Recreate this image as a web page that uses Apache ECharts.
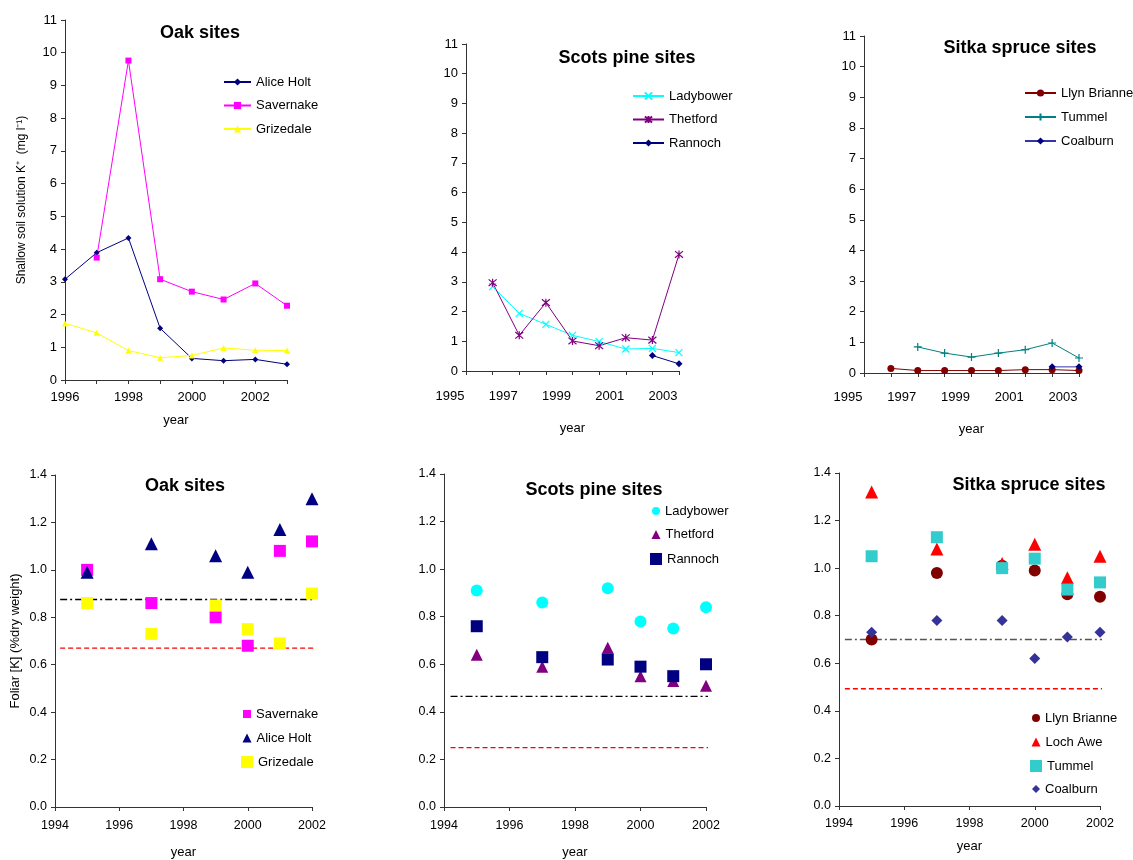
<!DOCTYPE html>
<html><head><meta charset="utf-8">
<script src="https://cdn.jsdelivr.net/npm/echarts@6/dist/echarts.min.js"></script>
<style>html,body{margin:0;padding:0;background:#fff}#c{width:1133px;height:860px}</style>
</head><body><div id="c"></div>
<script>
// ---------- data: shallow soil solution K+ (mg/l) ----------
const soilYears = [1996, 1997, 1998, 1999, 2000, 2001, 2002, 2003];
const aliceHoltSoil  = [3.08, 3.89, 4.34, 1.58, 0.66, 0.59, 0.63, 0.48];
const savernakeSoil  = [null, 3.74, 9.76, 3.08, 2.70, 2.46, 2.95, 2.27];
const grizedaleSoil  = [1.73, 1.44, 0.90, 0.68, 0.75, 0.98, 0.91, 0.90];
const ladybowerSoil  = [2.84, 1.94, 1.57, 1.20, 0.99, 0.74, 0.76, 0.62];
const thetfordSoil   = [2.97, 1.20, 2.30, 1.01, 0.85, 1.12, 1.04, 3.92];
const rannochSoil    = [null, null, null, null, null, null, 0.52, 0.24];
const llynBrianneSoil= [0.15, 0.08, 0.08, 0.08, 0.08, 0.11, 0.11, 0.08];
const tummelSoil     = [null, 0.85, 0.65, 0.52, 0.65, 0.76, 0.98, 0.49];
const coalburnSoil   = [null, null, null, null, null, null, 0.20, 0.20];

// ---------- data: foliar K (% dry weight) ----------
const foliarYears = [1995, 1997, 1999, 2000, 2001, 2002];
const savernakeFoliar   = [1.00, 0.86, 0.80, 0.68, 1.08, 1.12];
const aliceHoltFoliar   = [0.99, 1.11, 1.06, 0.99, 1.17, 1.30];
const grizedaleFoliar   = [0.86, 0.73, 0.85, 0.75, 0.69, 0.90];
const ladybowerFoliar   = [0.91, 0.86, 0.92, 0.78, 0.75, 0.84];
const thetfordFoliar    = [0.64, 0.59, 0.67, 0.55, 0.53, 0.51];
const rannochFoliar     = [0.76, 0.63, 0.62, 0.59, 0.55, 0.60];
const llynBrianneFoliar = [0.70, 0.98, 1.01, 0.99, 0.89, 0.88];
const lochAweFoliar     = [1.32, 1.08, 1.02, 1.10, 0.96, 1.05];
const tummelFoliar      = [1.05, 1.13, 1.00, 1.04, 0.91, 0.94];
const coalburnFoliar    = [0.73, 0.78, 0.78, 0.62, 0.71, 0.73];

// threshold lines (upper dash-dot, lower dashed) and their year extents
const oakThresholds    = [0.875, 0.67];
const pineThresholds   = [0.465, 0.25];
const spruceThresholds = [0.70, 0.493];
const oakRefYears    = [1994.16, 2002.33];
const pineRefYears   = [1994.2, 2002.2];
const spruceRefYears = [1994.18, 2002.25];

// tick labels
const soilYLabels = [0,1,2,3,4,5,6,7,8,9,10,11];
const foliarYLabels = ['0.0','0.2','0.4','0.6','0.8','1.0','1.2','1.4'];

// ---------- helpers ----------
const FF = '"Liberation Sans", Arial, sans-serif';
const SUF = ' (foliar)';
function pairs(xs, ys) { return xs.map((x, i) => ys[i] == null ? null : [x, ys[i]]).filter(p => p); }

const grids = [
  {left: 65,  top: 20,  width: 222, height: 360},
  {left: 466, top: 44,  width: 213, height: 327},
  {left: 864, top: 36,  width: 215, height: 337},
  {left: 55,  top: 475, width: 257, height: 333},
  {left: 444, top: 474, width: 262, height: 336},
  {left: 839, top: 473, width: 261, height: 333}
];

const axisLineStyle = {show: true, lineStyle: {color: '#333', width: 1}};
const tickStyle = {show: true, length: 4, inside: false, lineStyle: {color: '#333'}};

function soilX(gi, min, labelParity, margin, nameGap, shift) {
  return {
    gridIndex: gi, type: 'value', min: min, max: 2003, interval: 1,
    axisLine: axisLineStyle, axisTick: tickStyle, splitLine: {show: false},
    axisLabel: {
      margin: margin, fontSize: 13, fontFamily: FF, color: '#000',
      showMinLabel: true, showMaxLabel: true,
      padding: shift ? [0, 32, 0, 0] : 0,
      formatter: v => (v % 2 === labelParity ? String(v) : '')
    },
    name: 'year', nameLocation: 'middle', nameGap: nameGap,
    nameTextStyle: {fontSize: 13, fontFamily: FF, color: '#000'}
  };
}
function soilY(gi, name, nameGap) {
  return {
    gridIndex: gi, type: 'value', min: 0, max: 11, interval: 1,
    axisLine: axisLineStyle, axisTick: tickStyle, splitLine: {show: false},
    axisLabel: {margin: 8, fontSize: 13, fontFamily: FF, color: '#000',
      showMinLabel: true, showMaxLabel: true,
      formatter: v => String(soilYLabels[Math.round(v)])},
    name: name, nameLocation: 'middle', nameGap: nameGap, nameRotate: 90,
    nameTextStyle: {fontSize: 12, fontFamily: FF, color: '#000'}
  };
}
function folX(gi, margin, nameGap) {
  return {
    gridIndex: gi, type: 'value', min: 1994, max: 2002, interval: 2,
    axisLine: axisLineStyle, axisTick: tickStyle, splitLine: {show: false},
    axisLabel: {margin: margin, fontSize: 12.5, fontFamily: FF, color: '#000', showMinLabel: true, showMaxLabel: true,
      formatter: v => String(Math.round(v))},
    name: 'year', nameLocation: 'middle', nameGap: nameGap,
    nameTextStyle: {fontSize: 13, fontFamily: FF, color: '#000'}
  };
}
function folY(gi, name, nameGap) {
  return {
    gridIndex: gi, type: 'value', min: 0, max: 1.4, interval: 0.2,
    axisLine: axisLineStyle, axisTick: tickStyle, splitLine: {show: false},
    axisLabel: {margin: 8, fontSize: 12.5, fontFamily: FF, color: '#000',
      showMinLabel: true, showMaxLabel: true,
      formatter: v => foliarYLabels[Math.round(v / 0.2)]},
    name: name, nameLocation: 'middle', nameGap: nameGap, nameRotate: 90,
    nameTextStyle: {fontSize: 13, fontFamily: FF, color: '#000'}
  };
}

const X_PATH = 'path://M0,0L10,10M10,0L0,10';
const STAR_PATH = 'path://M0,0L10,10M10,0L0,10M5,-1L5,11';
const PLUS_PATH = 'path://M5,0L5,10M0,5L10,5';

function soilLine(gi, name, ys, color, symbol, size, lineColor, stroke) {
  const st = stroke ? {color: 'none', borderColor: color, borderWidth: 1.2} : {color: color, borderColor: color, borderWidth: 0};
  return {
    type: 'line', name: name, xAxisIndex: gi, yAxisIndex: gi,
    data: pairs(soilYears, ys), symbol: symbol, symbolSize: size, showSymbol: true,
    lineStyle: {color: lineColor || color, width: 1}, itemStyle: st,
    animation: false, silent: true, z: 3
  };
}
function folScatter(gi, name, ys, color, symbol, size) {
  return {
    type: 'scatter', name: name + SUF, xAxisIndex: gi, yAxisIndex: gi,
    data: pairs(foliarYears, ys), symbol: symbol, symbolSize: size,
    itemStyle: {color: color, opacity: 1}, animation: false, silent: true, z: 3
  };
}
function refLine(gi, yrs, val, color, type) {
  return {
    type: 'line', xAxisIndex: gi, yAxisIndex: gi, data: [[yrs[0], val], [yrs[1], val]],
    symbol: 'none', clip: false, silent: true, animation: false, z: 2,
    lineStyle: {color: color, width: 1.3, type: type}
  };
}
const DASHDOT = [7, 3, 2, 3];
const DASH = [5, 3];

function topLegend(names, left, top, iw, gap) {
  return {data: names, left: left, top: top, orient: 'vertical', padding: 0,
    itemWidth: iw, itemHeight: 9, itemGap: gap, selectedMode: false,
    textStyle: {fontSize: 13, fontFamily: FF, color: '#000'}};
}
function itemLegend(name, icon, left, top, size) {
  return {data: [{name: name + SUF, icon: icon}], left: left, top: top, orient: 'vertical', padding: 0,
    itemWidth: size, itemHeight: size, selectedMode: false,
    formatter: n => n.replace(SUF, ''),
    textStyle: {fontSize: 13, fontFamily: FF, color: '#000'}};
}
function ttl(text, cx, cy) {
  return {text: text, left: cx, top: cy, textAlign: 'center', textVerticalAlign: 'middle', padding: 0,
    textStyle: {fontSize: 18, fontWeight: 'bold', fontFamily: FF, color: '#000'}};
}

const option = {
  backgroundColor: '#fff',
  animation: false,
  title: [
    ttl('Oak sites', 200, 33),
    ttl('Scots pine sites', 627, 58),
    ttl('Sitka spruce sites', 1020, 48),
    ttl('Oak sites', 185, 486),
    ttl('Scots pine sites', 594, 490),
    ttl('Sitka spruce sites', 1029, 485)
  ],
  grid: grids,
  xAxis: [
    soilX(0, 1996, 0, 11, 34, false),
    soilX(1, 1995, 1, 19, 51, true),
    soilX(2, 1995, 1, 18, 50, true),
    folX(3, 12, 39),
    folX(4, 12, 39),
    folX(5, 11, 34)
  ],
  yAxis: [
    soilY(0, 'Shallow soil solution K\u207A  (mg l\u207B\u00B9)', 37),
    soilY(1, '', 30),
    soilY(2, '', 30),
    folY(3, 'Foliar [K] (%dry weight)', 33),
    folY(4, '', 30),
    folY(5, '', 30)
  ],
  legend: [
    topLegend(['Alice Holt', 'Savernake', 'Grizedale'], 223, 75.5, 27, 10.5),
    topLegend(['Ladybower', 'Thetford', 'Rannoch'], 632, 89.5, 31, 10.5),
    topLegend(['Llyn Brianne', 'Tummel', 'Coalburn'], 1024, 86.5, 31, 11),
    itemLegend('Savernake', 'rect', 243, 707.5, 8),
    itemLegend('Alice Holt', 'triangle', 242.5, 731.5, 9),
    itemLegend('Grizedale', 'rect', 241, 755.5, 12),
    itemLegend('Ladybower', 'circle', 652, 504.5, 8),
    itemLegend('Thetford', 'triangle', 651.5, 528, 9),
    itemLegend('Rannoch', 'rect', 650, 552.5, 12),
    itemLegend('Llyn Brianne', 'circle', 1032, 711.5, 8),
    itemLegend('Loch Awe', 'triangle', 1031.5, 735.5, 9),
    itemLegend('Tummel', 'rect', 1030, 759.5, 12),
    itemLegend('Coalburn', 'diamond', 1032, 782.5, 8)
  ],
  series: [
    soilLine(0, 'Alice Holt', aliceHoltSoil, '#000080', 'diamond', 6),
    soilLine(0, 'Savernake', savernakeSoil, '#FF00FF', 'rect', 6),
    soilLine(0, 'Grizedale', grizedaleSoil, '#FFFF00', 'triangle', 6),
    soilLine(1, 'Ladybower', ladybowerSoil, '#00FFFF', X_PATH, 7, null, true),
    soilLine(1, 'Thetford', thetfordSoil, '#800080', STAR_PATH, 8, null, true),
    soilLine(1, 'Rannoch', rannochSoil, '#000080', 'diamond', 7),
    soilLine(2, 'Llyn Brianne', llynBrianneSoil, '#800000', 'circle', 7),
    soilLine(2, 'Tummel', tummelSoil, '#008080', PLUS_PATH, 8, null, true),
    soilLine(2, 'Coalburn', coalburnSoil, '#000080', 'diamond', 7, '#3333AA'),

    refLine(3, oakRefYears, oakThresholds[0], '#000', DASHDOT),
    refLine(3, oakRefYears, oakThresholds[1], '#FF0000', DASH),
    refLine(4, pineRefYears, pineThresholds[0], '#000', DASHDOT),
    refLine(4, pineRefYears, pineThresholds[1], '#FF0000', DASH),
    refLine(5, spruceRefYears, spruceThresholds[0], '#555', DASHDOT),
    refLine(5, spruceRefYears, spruceThresholds[1], '#FF0000', DASH),

    folScatter(3, 'Savernake', savernakeFoliar, '#FF00FF', 'rect', 12),
    folScatter(3, 'Alice Holt', aliceHoltFoliar, '#000080', 'triangle', 13),
    folScatter(3, 'Grizedale', grizedaleFoliar, '#FFFF00', 'rect', 12),
    folScatter(4, 'Ladybower', ladybowerFoliar, '#00FFFF', 'circle', 12),
    folScatter(4, 'Thetford', thetfordFoliar, '#800080', 'triangle', 12),
    folScatter(4, 'Rannoch', rannochFoliar, '#000080', 'rect', 12),
    folScatter(5, 'Llyn Brianne', llynBrianneFoliar, '#800000', 'circle', 12),
    folScatter(5, 'Loch Awe', lochAweFoliar, '#FF0000', 'triangle', 13),
    folScatter(5, 'Tummel', tummelFoliar, '#33CCCC', 'rect', 12),
    folScatter(5, 'Coalburn', coalburnFoliar, '#333399', 'diamond', 11)
  ]
};

const chart = echarts.init(document.getElementById('c'), null, {renderer: 'canvas'});
chart.setOption(option);
</script></body></html>
